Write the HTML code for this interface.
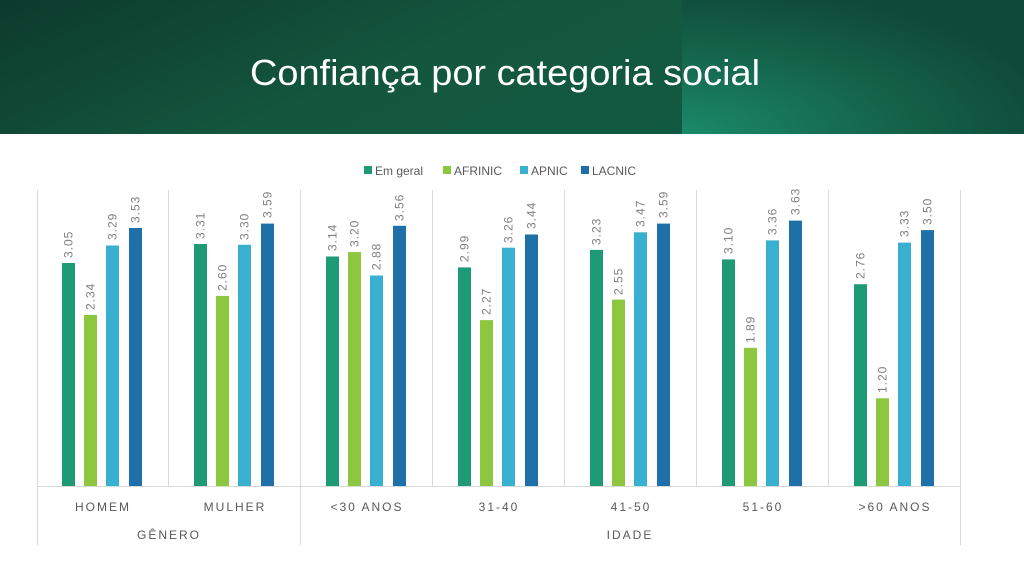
<!DOCTYPE html>
<html><head><meta charset="utf-8"><style>
html,body{margin:0;padding:0;background:#fff;}
svg{display:block;font-family:"Liberation Sans",sans-serif;}
</style></head><body>
<svg width="1024" height="578" viewBox="0 0 1024 578" xmlns="http://www.w3.org/2000/svg">
<defs>
<linearGradient id="hg" x1="0" y1="0" x2="1" y2="0.3">
<stop offset="0" stop-color="#0c3a2c"/><stop offset="0.5" stop-color="#14573f"/><stop offset="1" stop-color="#125a42"/>
</linearGradient>
<radialGradient id="rg" cx="0" cy="1" r="1.1">
<stop offset="0" stop-color="#1a8a68"/><stop offset="0.6" stop-color="#146148"/><stop offset="1" stop-color="#0f4a38"/>
</radialGradient>
</defs>
<rect x="0" y="0" width="1024" height="134" fill="url(#hg)"/>
<rect x="682" y="0" width="342" height="134" fill="url(#rg)"/>
<text x="505" y="85" fill="#fff" font-size="36" text-anchor="middle" textLength="510" lengthAdjust="spacingAndGlyphs">Confiança por categoria social</text>

<g font-size="12" fill="#595959">
<rect x="364" y="166" width="8" height="8" fill="#1e9b76"/><text x="375" y="175">Em geral</text>
<rect x="443" y="166" width="8" height="8" fill="#8dc63f"/><text x="454" y="175">AFRINIC</text>
<rect x="520" y="166" width="8" height="8" fill="#38b0d0"/><text x="531" y="175">APNIC</text>
<rect x="581" y="166" width="8" height="8" fill="#1f6fa8"/><text x="592" y="175">LACNIC</text>
</g>

<g stroke="#d9d9d9" stroke-width="1">
<line x1="37.5" y1="190" x2="37.5" y2="545"/>
<line x1="168.5" y1="190" x2="168.5" y2="487"/>
<line x1="300.5" y1="190" x2="300.5" y2="545"/>
<line x1="432.5" y1="190" x2="432.5" y2="487"/>
<line x1="564.5" y1="190" x2="564.5" y2="487"/>
<line x1="696.5" y1="190" x2="696.5" y2="487"/>
<line x1="828.5" y1="190" x2="828.5" y2="487"/>
<line x1="960.5" y1="190" x2="960.5" y2="545"/>
<line x1="37" y1="486.5" x2="961" y2="486.5"/>
</g>

<g>
<rect x="62" y="263.0" width="13" height="223.0" fill="#1e9b76"/>
<rect x="84" y="314.9" width="13" height="171.1" fill="#8dc63f"/>
<rect x="106" y="245.5" width="13" height="240.5" fill="#38b0d0"/>
<rect x="129" y="228.0" width="13" height="258.0" fill="#1f6fa8"/>
<rect x="194" y="244.0" width="13" height="242.0" fill="#1e9b76"/>
<rect x="216" y="295.9" width="13" height="190.1" fill="#8dc63f"/>
<rect x="238" y="244.8" width="13" height="241.2" fill="#38b0d0"/>
<rect x="261" y="223.6" width="13" height="262.4" fill="#1f6fa8"/>
<rect x="326" y="256.5" width="13" height="229.5" fill="#1e9b76"/>
<rect x="348" y="252.1" width="13" height="233.9" fill="#8dc63f"/>
<rect x="370" y="275.5" width="13" height="210.5" fill="#38b0d0"/>
<rect x="393" y="225.8" width="13" height="260.2" fill="#1f6fa8"/>
<rect x="458" y="267.4" width="13" height="218.6" fill="#1e9b76"/>
<rect x="480" y="320.1" width="13" height="165.9" fill="#8dc63f"/>
<rect x="502" y="247.7" width="13" height="238.3" fill="#38b0d0"/>
<rect x="525" y="234.5" width="13" height="251.5" fill="#1f6fa8"/>
<rect x="590" y="249.9" width="13" height="236.1" fill="#1e9b76"/>
<rect x="612" y="299.6" width="13" height="186.4" fill="#8dc63f"/>
<rect x="634" y="232.3" width="13" height="253.7" fill="#38b0d0"/>
<rect x="657" y="223.6" width="13" height="262.4" fill="#1f6fa8"/>
<rect x="722" y="259.4" width="13" height="226.6" fill="#1e9b76"/>
<rect x="744" y="347.8" width="13" height="138.2" fill="#8dc63f"/>
<rect x="766" y="240.4" width="13" height="245.6" fill="#38b0d0"/>
<rect x="789" y="220.6" width="13" height="265.4" fill="#1f6fa8"/>
<rect x="854" y="284.2" width="13" height="201.8" fill="#1e9b76"/>
<rect x="876" y="398.3" width="13" height="87.7" fill="#8dc63f"/>
<rect x="898" y="242.6" width="13" height="243.4" fill="#38b0d0"/>
<rect x="921" y="230.1" width="13" height="255.9" fill="#1f6fa8"/>
</g>

<g font-size="12" fill="#7f7f7f" letter-spacing="1">
<text transform="translate(72.5,258) rotate(-90)">3.05</text>
<text transform="translate(94.5,310) rotate(-90)">2.34</text>
<text transform="translate(116.5,240) rotate(-90)">3.29</text>
<text transform="translate(139.5,223) rotate(-90)">3.53</text>
<text transform="translate(204.5,239) rotate(-90)">3.31</text>
<text transform="translate(226.5,291) rotate(-90)">2.60</text>
<text transform="translate(248.5,240) rotate(-90)">3.30</text>
<text transform="translate(271.5,218) rotate(-90)">3.59</text>
<text transform="translate(336.5,251) rotate(-90)">3.14</text>
<text transform="translate(358.5,247) rotate(-90)">3.20</text>
<text transform="translate(380.5,270) rotate(-90)">2.88</text>
<text transform="translate(403.5,221) rotate(-90)">3.56</text>
<text transform="translate(468.5,262) rotate(-90)">2.99</text>
<text transform="translate(490.5,315) rotate(-90)">2.27</text>
<text transform="translate(512.5,243) rotate(-90)">3.26</text>
<text transform="translate(535.5,229) rotate(-90)">3.44</text>
<text transform="translate(600.5,245) rotate(-90)">3.23</text>
<text transform="translate(622.5,295) rotate(-90)">2.55</text>
<text transform="translate(644.5,227) rotate(-90)">3.47</text>
<text transform="translate(667.5,218) rotate(-90)">3.59</text>
<text transform="translate(732.5,254) rotate(-90)">3.10</text>
<text transform="translate(754.5,343) rotate(-90)">1.89</text>
<text transform="translate(776.5,235) rotate(-90)">3.36</text>
<text transform="translate(799.5,215) rotate(-90)">3.63</text>
<text transform="translate(864.5,279) rotate(-90)">2.76</text>
<text transform="translate(886.5,393) rotate(-90)">1.20</text>
<text transform="translate(908.5,237) rotate(-90)">3.33</text>
<text transform="translate(931.5,225) rotate(-90)">3.50</text>
</g>

<g font-size="12" fill="#595959" text-anchor="middle" letter-spacing="2">
<text x="103" y="511">HOMEM</text>
<text x="235" y="511">MULHER</text>
<text x="367" y="511">&lt;30 ANOS</text>
<text x="499" y="511">31-40</text>
<text x="631" y="511">41-50</text>
<text x="763" y="511">51-60</text>
<text x="895" y="511">&gt;60 ANOS</text>
<text x="169" y="539">GÊNERO</text>
<text x="630" y="539">IDADE</text>
</g>
</svg>
</body></html>
